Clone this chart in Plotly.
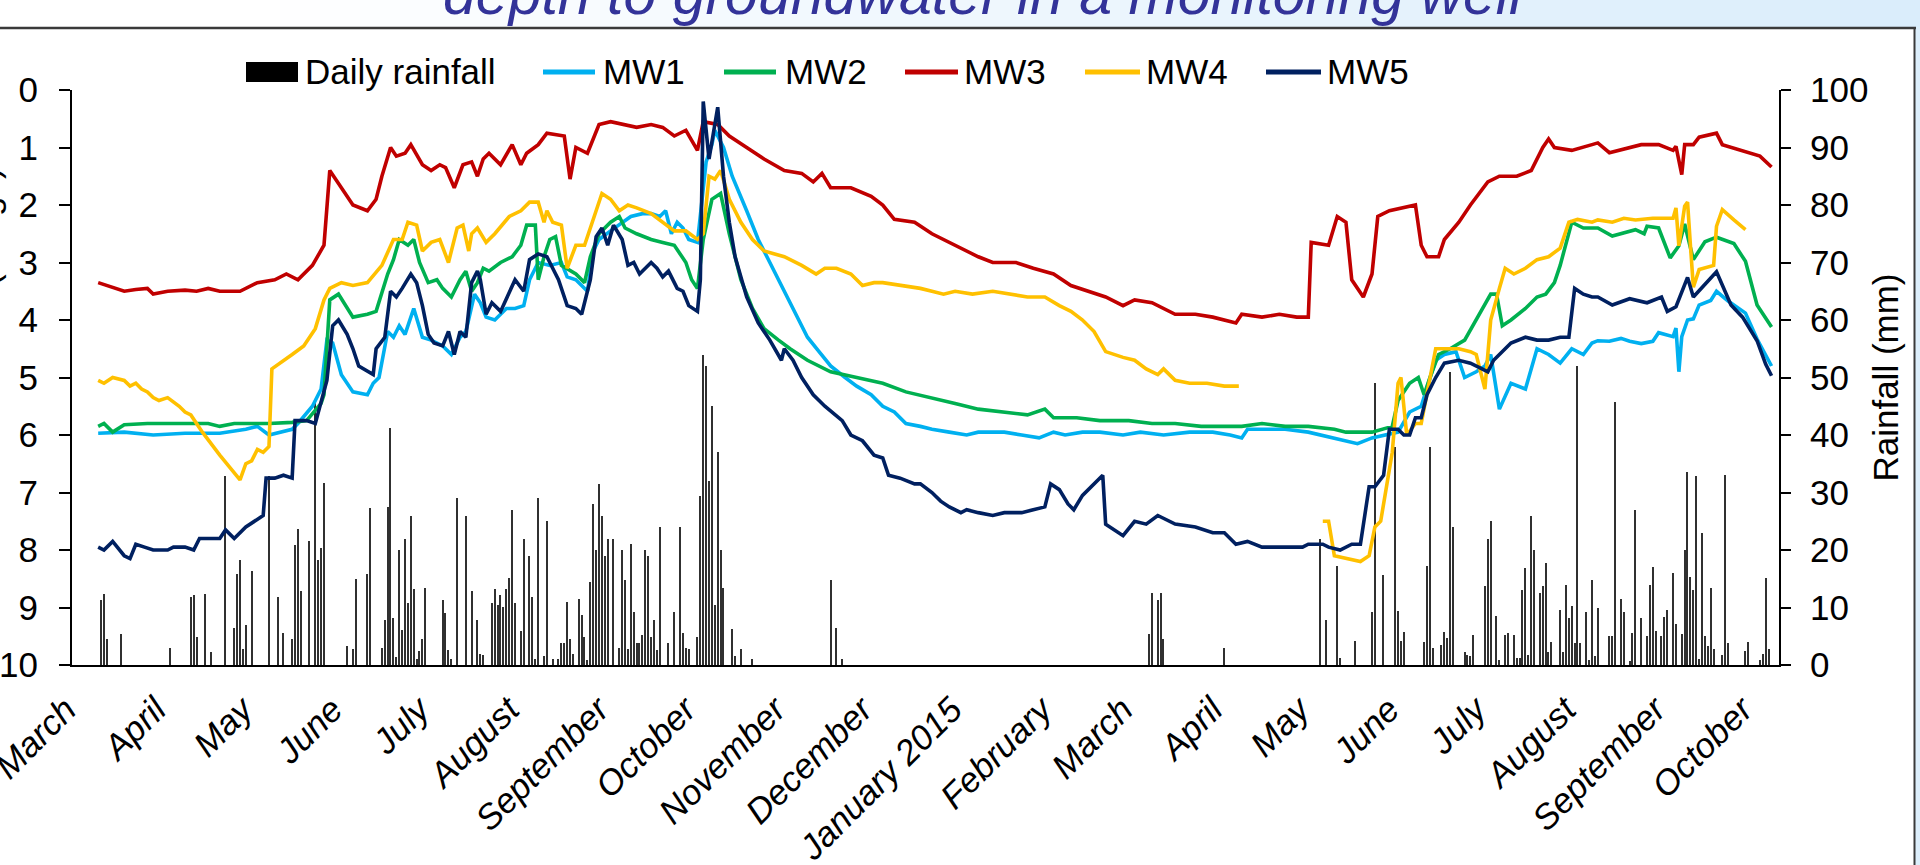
import pandas as pd
import plotly.graph_objects as go

# ---------------- data (days counted from 1 March 2014) ----------------
START = pd.Timestamp("2014-03-01")

month_ticks = ["2014-03-01", "2014-04-01", "2014-05-01", "2014-06-01", "2014-07-01",
               "2014-08-01", "2014-09-01", "2014-10-01", "2014-11-01", "2014-12-01",
               "2015-01-01", "2015-02-01", "2015-03-01", "2015-04-01", "2015-05-01",
               "2015-06-01", "2015-07-01", "2015-08-01", "2015-09-01", "2015-10-01"]
month_labels = ["March", "April", "May", "June", "July", "August", "September", "October",
                "November", "December", "January 2015", "February", "March", "April", "May",
                "June", "July", "August", "September", "October"]

rain_2014 = [(9, 11.3), (10, 12.4), (11, 4.5), (16, 5.4), (33, 2.9), (40, 11.9), (41, 12.1), (42, 4.9),
             (45, 12.4), (47, 2.3), (52, 32.8), (55, 6.5), (56, 15.8), (57, 18.3), (58, 2.7), (59, 7.0),
             (61, 16.3), (67, 32.8), (70, 11.8), (72, 5.6), (75, 4.6), (76, 20.8), (77, 23.7), (78, 12.9),
             (81, 21.6), (83, 46.0), (84, 18.2), (85, 20.3), (86, 31.6), (94, 3.3), (96, 2.7), (97, 14.9),
             (101, 15.9), (102, 27.3), (106, 3.0), (107, 7.9), (108, 27.5), (109, 41.2), (110, 8.2),
             (111, 1.4), (112, 20.0), (113, 6.1), (114, 22.0), (115, 10.7), (116, 26.0), (117, 13.2),
             (118, 1.1), (119, 2.5), (120, 4.5), (121, 13.4), (127, 11.3), (128, 9.1), (129, 2.6),
             (130, 1.0), (132, 29.0), (135, 26.0), (137, 12.9), (139, 7.9), (140, 1.9), (141, 1.8),
             (144, 10.8), (145, 13.3), (146, 10.4), (147, 12.2), (148, 10.1), (149, 13.2), (150, 15.1),
             (151, 27.0), (152, 10.7), (154, 6.0), (155, 22.0), (157, 19.0), (158, 11.8), (159, 1.0),
             (160, 29.0), (162, 1.5), (163, 25.0), (165, 1.1), (167, 1.0), (168, 3.8), (169, 3.8),
             (170, 11.0), (171, 4.6), (172, 2.0), (174, 11.4), (175, 8.7), (176, 4.9), (177, 0.9),
             (178, 14.5), (179, 28.0), (180, 20.0), (181, 31.5), (182, 26.0), (183, 19.0), (184, 22.0),
             (186, 22.0), (188, 3.0), (189, 20.0), (190, 14.8), (191, 2.7), (192, 21.0), (193, 9.3),
             (194, 3.8), (195, 3.8), (196, 5.2), (197, 20.0), (198, 19.0), (199, 4.9), (200, 7.8),
             (201, 2.6), (202, 24.0), (205, 3.9), (207, 9.3), (209, 24.0), (210, 5.6), (211, 2.9),
             (212, 2.7), (215, 4.8), (216, 29.4), (217, 54.0), (218, 52.0), (219, 32.0), (220, 45.0),
             (221, 10.4), (222, 37.0), (223, 20.0), (224, 13.4), (227, 6.2), (228, 1.5), (230, 2.7),
             (234, 1.0), (261, 14.7), (263, 6.4), (265, 1.0)]

rain_2015 = [(371, 5.4), (372, 12.5), (374, 11.3), (375, 12.5), (376, 4.5), (397, 2.9), (430, 22.0),
             (432, 7.8), (436, 17.3), (437, 1.3), (442, 4.2), (448, 9.2), (449, 49.0), (452, 15.6),
             (456, 38.0), (457, 9.4), (458, 4.2), (459, 5.8), (466, 4.0), (467, 17.3), (468, 38.0),
             (469, 2.9), (472, 3.5), (473, 5.8), (474, 4.7), (475, 51.0), (476, 24.0), (480, 2.3),
             (481, 1.7), (482, 1.5), (483, 5.2), (487, 13.8), (488, 22.0), (489, 25.0), (491, 8.5),
             (492, 0.9), (494, 5.2), (495, 5.6), (497, 5.2), (498, 1.3), (499, 1.3), (500, 13.0),
             (501, 16.9), (502, 1.7), (503, 26.0), (504, 20.0), (506, 12.5), (507, 13.7), (508, 17.8),
             (509, 2.3), (510, 4.0), (513, 9.5), (514, 2.3), (515, 14.0), (516, 8.1), (517, 10.3),
             (518, 3.8), (519, 52.0), (520, 3.8), (522, 9.3), (523, 0.9), (524, 14.7), (525, 1.5),
             (526, 10.0), (530, 5.0), (531, 5.0), (532, 45.7), (534, 11.5), (535, 9.3), (537, 0.7),
             (538, 5.5), (539, 27.0), (541, 8.2), (543, 5.0), (544, 14.0), (545, 17.0), (546, 6.0),
             (548, 5.0), (549, 8.4), (550, 9.5), (552, 16.0), (553, 7.2), (555, 5.4), (556, 20.0),
             (557, 33.5), (558, 15.3), (559, 13.0), (560, 32.9), (561, 1.0), (562, 22.9), (563, 5.0),
             (564, 3.3), (565, 13.4), (566, 2.7), (569, 1.7), (570, 33.1), (571, 3.8), (577, 2.4),
             (578, 4.0), (582, 0.8), (583, 2.0), (584, 15.1), (585, 2.7)]

mw1 = [(8, 5.97), (17, 5.95), (27, 6.0), (38, 5.97), (50, 5.97), (59, 5.9), (63, 5.85), (67, 6.0),
       (75, 5.9), (77, 5.8), (82, 5.5), (85, 5.2), (87, 4.35), (89, 4.4), (92, 4.95), (96, 5.25),
       (101, 5.3), (103, 5.1), (105, 5.0), (108, 4.2), (110, 4.3), (112, 4.1), (114, 4.25), (117, 3.8),
       (120, 4.3), (123, 4.35), (127, 4.45), (130, 4.6), (133, 4.3), (135, 4.2), (138, 3.55), (140, 3.7),
       (142, 3.95), (145, 4.0), (149, 3.8), (152, 3.8), (155, 3.75), (157, 3.3), (160, 3.0), (164, 3.05),
       (168, 3.0), (170, 3.25), (173, 3.3), (177, 3.5), (179, 2.8), (181, 2.6), (185, 2.45), (189, 2.3),
       (192, 2.2), (196, 2.15), (199, 2.15), (202, 2.2), (204, 2.1), (206, 2.5), (208, 2.3), (210, 2.4),
       (212, 2.6), (215, 2.65), (218, 1.25), (220, 0.95), (221, 0.7), (224, 1.0), (227, 1.5), (232, 2.1),
       (236, 2.6), (240, 3.0), (245, 3.5), (249, 3.9), (253, 4.3), (257, 4.55), (261, 4.8), (266, 5.0),
       (270, 5.15), (275, 5.3), (279, 5.5), (283, 5.6), (287, 5.8), (292, 5.85), (296, 5.9), (302, 5.95),
       (308, 6.0), (312, 5.95), (321, 5.95), (327, 6.0), (333, 6.05), (338, 5.95), (342, 6.0),
       (348, 5.95), (354, 5.95), (362, 6.0), (368, 5.95), (376, 6.0), (385, 5.95), (393, 5.95),
       (399, 6.0), (403, 6.05), (405, 5.9), (410, 5.9), (418, 5.9), (426, 5.95), (435, 6.05),
       (439, 6.1), (443, 6.15), (448, 6.05), (452, 6.0), (457, 5.95), (461, 5.6), (465, 5.5),
       (470, 4.7), (473, 4.6), (477, 4.55), (480, 5.0), (484, 4.9), (487, 4.8), (489, 4.6),
       (492, 5.55), (496, 5.1), (501, 5.2), (505, 4.5), (509, 4.6), (513, 4.75), (517, 4.5),
       (521, 4.6), (524, 4.4), (526, 4.36), (530, 4.37), (534, 4.32), (537, 4.37), (541, 4.41),
       (545, 4.37), (547, 4.22), (552, 4.29), (553, 4.14), (554, 4.9), (555, 4.29), (557, 4.0),
       (559, 3.98), (561, 3.74), (565, 3.66), (567, 3.5), (571, 3.67), (577, 3.88), (581, 4.33),
       (586, 4.8)]

mw2 = [(8, 5.85), (10, 5.8), (13, 5.95), (17, 5.82), (25, 5.8), (38, 5.8), (46, 5.8), (50, 5.85),
       (55, 5.8), (59, 5.8), (67, 5.8), (75, 5.78), (80, 5.75), (85, 5.45), (86, 5.3), (88, 3.65),
       (91, 3.55), (96, 3.95), (101, 3.9), (104, 3.85), (108, 3.2), (110, 2.95), (112, 2.6), (115, 2.7),
       (117, 2.6), (119, 3.0), (122, 3.35), (125, 3.3), (127, 3.45), (130, 3.6), (133, 3.3), (135, 3.15),
       (137, 3.5), (139, 3.35), (141, 3.1), (143, 3.15), (147, 3.0), (151, 2.9), (154, 2.7), (156, 2.35),
       (159, 2.35), (160, 3.3), (162, 2.9), (164, 2.6), (166, 2.55), (168, 3.05), (171, 3.15),
       (173, 3.2), (176, 3.35), (178, 2.9), (181, 2.5), (185, 2.3), (188, 2.2), (190, 2.4), (194, 2.5),
       (199, 2.6), (203, 2.65), (207, 2.7), (211, 3.0), (213, 3.3), (215, 3.45), (217, 2.6), (220, 1.9),
       (223, 1.8), (226, 2.5), (230, 3.3), (234, 3.8), (238, 4.15), (243, 4.35), (247, 4.5), (253, 4.7),
       (261, 4.9), (270, 5.0), (279, 5.1), (287, 5.25), (296, 5.35), (304, 5.45), (312, 5.55),
       (321, 5.6), (329, 5.65), (335, 5.55), (338, 5.7), (346, 5.7), (354, 5.75), (364, 5.75),
       (372, 5.8), (380, 5.8), (389, 5.85), (397, 5.85), (403, 5.85), (410, 5.8), (418, 5.85),
       (426, 5.85), (435, 5.9), (439, 5.95), (443, 5.95), (448, 5.95), (455, 5.85), (457, 5.4),
       (461, 5.1), (464, 5.0), (466, 5.3), (468, 5.0), (471, 4.6), (475, 4.5), (480, 4.35), (484, 4.0),
       (487, 3.75), (489, 3.55), (491, 3.55), (493, 4.1), (496, 4.0), (501, 3.8), (505, 3.6),
       (508, 3.55), (511, 3.35), (513, 3.05), (517, 2.3), (521, 2.4), (524, 2.4), (526, 2.4),
       (531, 2.54), (539, 2.43), (542, 2.5), (543, 2.37), (547, 2.4), (549, 2.64), (551, 2.92),
       (554, 2.71), (556, 2.33), (559, 2.95), (563, 2.64), (567, 2.56), (573, 2.67), (577, 2.98),
       (581, 3.74), (586, 4.12)]

mw3 = [(8, 3.35), (11, 3.4), (17, 3.5), (21, 3.47), (25, 3.45), (27, 3.55), (32, 3.5), (38, 3.48),
       (42, 3.5), (46, 3.45), (50, 3.5), (57, 3.5), (59, 3.45), (63, 3.35), (69, 3.3), (73, 3.2),
       (77, 3.3), (82, 3.05), (86, 2.7), (88, 1.4), (92, 1.7), (96, 2.0), (101, 2.1), (104, 1.9),
       (106, 1.5), (109, 1.0), (111, 1.15), (114, 1.1), (116, 0.95), (120, 1.3), (123, 1.4),
       (126, 1.3), (128, 1.35), (131, 1.7), (134, 1.3), (137, 1.25), (139, 1.5), (141, 1.2),
       (143, 1.1), (147, 1.3), (151, 0.95), (154, 1.3), (156, 1.1), (160, 0.95), (163, 0.75),
       (168, 0.8), (169, 0.8), (171, 1.55), (173, 1.0), (177, 1.1), (181, 0.6), (185, 0.55),
       (190, 0.6), (194, 0.65), (199, 0.6), (203, 0.65), (207, 0.8), (211, 0.7), (215, 1.05),
       (217, 0.55), (222, 0.6), (226, 0.8), (232, 1.0), (238, 1.2), (245, 1.4), (251, 1.45),
       (255, 1.6), (258, 1.45), (261, 1.7), (268, 1.7), (275, 1.85), (279, 2.0), (283, 2.25),
       (290, 2.3), (296, 2.5), (302, 2.65), (308, 2.8), (312, 2.9), (317, 3.0), (325, 3.0),
       (331, 3.1), (338, 3.2), (344, 3.4), (350, 3.5), (356, 3.6), (362, 3.75), (366, 3.65),
       (372, 3.7), (380, 3.9), (387, 3.9), (393, 3.95), (401, 4.05), (403, 3.9), (410, 3.95),
       (416, 3.9), (422, 3.95), (426, 3.95), (427, 2.65), (433, 2.7), (436, 2.2), (439, 2.3),
       (441, 3.3), (445, 3.6), (448, 3.2), (450, 2.2), (454, 2.1), (459, 2.05), (463, 2.0),
       (465, 2.7), (467, 2.9), (471, 2.9), (473, 2.6), (478, 2.3), (482, 2.0), (488, 1.6),
       (492, 1.5), (498, 1.5), (503, 1.4), (507, 1.0), (509, 0.85), (511, 1.0), (517, 1.05),
       (524, 0.95), (526, 0.92), (530, 1.09), (541, 0.95), (547, 0.95), (552, 1.05), (553, 0.98),
       (555, 1.47), (556, 0.95), (559, 0.95), (561, 0.82), (567, 0.75), (569, 0.95), (577, 1.08),
       (582, 1.15), (586, 1.34)]

mw4 = [(8, 5.05), (10, 5.1), (13, 5.0), (17, 5.05), (19, 5.15), (21, 5.1), (23, 5.2), (25, 5.25),
       (27, 5.35), (29, 5.4), (32, 5.35), (36, 5.5), (38, 5.6), (40, 5.65), (44, 5.95), (50, 6.35),
       (57, 6.78), (59, 6.5), (61, 6.45), (63, 6.25), (65, 6.3), (67, 6.2), (68, 4.85), (71, 4.75),
       (75, 4.6), (79, 4.45), (83, 4.15), (86, 3.65), (88, 3.45), (92, 3.35), (96, 3.4), (101, 3.35),
       (106, 3.05), (110, 2.6), (113, 2.6), (115, 2.3), (118, 2.35), (120, 2.8), (123, 2.65),
       (126, 2.6), (129, 3.0), (132, 2.4), (134, 2.35), (136, 2.8), (137, 2.5), (139, 2.4),
       (142, 2.65), (145, 2.5), (150, 2.2), (154, 2.1), (157, 1.95), (160, 1.95), (162, 2.3),
       (163, 2.1), (165, 2.3), (168, 2.35), (170, 3.1), (173, 2.7), (176, 2.7), (180, 2.1),
       (182, 1.8), (185, 1.9), (188, 2.1), (191, 2.0), (194, 2.05), (199, 2.15), (203, 2.3),
       (207, 2.45), (211, 2.45), (215, 2.6), (217, 2.5), (219, 1.5), (221, 1.55), (223, 1.4),
       (226, 1.9), (230, 2.3), (234, 2.6), (238, 2.8), (245, 2.9), (251, 3.05), (256, 3.2),
       (259, 3.1), (263, 3.1), (268, 3.2), (272, 3.4), (276, 3.35), (279, 3.35), (285, 3.4),
       (292, 3.45), (296, 3.5), (300, 3.55), (304, 3.5), (310, 3.55), (317, 3.5), (323, 3.55),
       (329, 3.6), (335, 3.6), (340, 3.75), (344, 3.85), (348, 4.0), (352, 4.2), (356, 4.55),
       (362, 4.65), (366, 4.7), (370, 4.85), (374, 4.95), (376, 4.85), (380, 5.05), (385, 5.1),
       (391, 5.1), (397, 5.15), (402, 5.15), (415, None),
       (431, 7.5), (433, 7.5), (435, 8.1), (439, 8.15), (444, 8.2), (447, 8.1), (449, 7.6),
       (451, 7.5), (455, 6.3), (457, 5.1), (458, 5.0), (460, 6.0), (463, 5.8), (465, 5.8),
       (467, 5.3), (470, 4.5), (473, 4.5), (478, 4.5), (482, 4.55), (484, 4.6), (487, 5.2),
       (489, 4.0), (492, 3.45), (494, 3.1), (497, 3.2), (501, 3.1), (505, 2.95), (509, 2.9),
       (513, 2.75), (516, 2.3), (519, 2.25), (524, 2.3), (526, 2.26), (531, 2.3), (535, 2.23),
       (539, 2.26), (545, 2.23), (552, 2.23), (553, 2.05), (554, 2.71), (556, 2.02), (557, 1.95),
       (558, 2.71), (559, 3.43), (561, 3.12), (566, 3.05), (567, 2.37), (569, 2.08), (573, 2.26),
       (577, 2.43)]

mw5 = [(8, 7.95), (10, 8.0), (13, 7.85), (17, 8.1), (19, 8.15), (21, 7.9), (24, 7.95), (27, 8.0),
       (32, 8.0), (34, 7.95), (38, 7.95), (41, 8.0), (43, 7.8), (47, 7.8), (50, 7.8), (52, 7.65),
       (55, 7.8), (59, 7.6), (65, 7.4), (66, 6.75), (69, 6.75), (72, 6.7), (75, 6.75), (76, 5.75),
       (80, 5.75), (83, 5.8), (85, 5.4), (87, 5.05), (89, 4.1), (91, 4.0), (94, 4.25), (96, 4.5),
       (98, 4.8), (103, 4.95), (104, 4.5), (107, 4.3), (109, 3.5), (111, 3.6), (113, 3.45),
       (116, 3.2), (118, 3.35), (120, 3.75), (122, 4.25), (124, 4.4), (127, 4.45), (129, 4.2),
       (131, 4.6), (133, 4.2), (135, 4.3), (137, 3.35), (139, 3.15), (140, 3.3), (142, 3.9),
       (144, 3.7), (147, 3.85), (150, 3.5), (152, 3.3), (155, 3.5), (157, 2.95), (160, 2.85),
       (163, 2.9), (165, 3.1), (167, 3.3), (170, 3.75), (173, 3.8), (175, 3.9), (178, 3.3),
       (180, 2.55), (182, 2.4), (184, 2.7), (186, 2.35), (189, 2.6), (191, 3.05), (193, 3.0),
       (195, 3.2), (199, 3.0), (201, 3.1), (203, 3.25), (205, 3.15), (208, 3.45), (210, 3.5),
       (212, 3.75), (215, 3.85), (216, 3.3), (217, 0.2), (219, 1.2), (220, 0.9), (222, 0.3),
       (224, 1.5), (226, 2.3), (228, 2.9), (232, 3.6), (236, 4.05), (240, 4.35), (244, 4.7),
       (245, 4.5), (248, 4.7), (251, 5.0), (255, 5.3), (259, 5.5), (265, 5.75), (268, 6.0),
       (272, 6.1), (276, 6.35), (279, 6.4), (281, 6.7), (285, 6.75), (290, 6.85), (292, 6.85),
       (296, 7.0), (299, 7.15), (302, 7.25), (306, 7.35), (308, 7.3), (312, 7.35), (317, 7.4),
       (321, 7.35), (327, 7.35), (331, 7.3), (335, 7.25), (337, 6.85), (340, 6.95), (343, 7.2),
       (345, 7.3), (348, 7.05), (355, 6.7), (356, 7.55), (362, 7.75), (366, 7.5), (370, 7.55),
       (374, 7.4), (380, 7.55), (387, 7.6), (393, 7.7), (397, 7.7), (401, 7.9), (405, 7.85),
       (410, 7.95), (418, 7.95), (424, 7.95), (426, 7.9), (431, 7.9), (433, 7.95), (437, 8.0),
       (441, 7.9), (444, 7.9), (447, 6.9), (449, 6.9), (452, 6.7), (454, 5.9), (457, 5.9),
       (459, 6.0), (461, 6.0), (463, 5.7), (465, 5.7), (467, 5.3), (470, 5.0), (473, 4.75),
       (478, 4.7), (482, 4.75), (486, 4.85), (488, 4.9), (490, 4.7), (493, 4.55), (496, 4.4),
       (501, 4.3), (505, 4.35), (509, 4.35), (513, 4.3), (516, 4.3), (518, 3.45), (521, 3.55),
       (524, 3.6), (526, 3.6), (531, 3.74), (537, 3.63), (543, 3.7), (548, 3.6), (550, 3.85),
       (553, 3.77), (557, 3.26), (559, 3.6), (567, 3.16), (572, 3.74), (576, 3.95), (581, 4.36),
       (584, 4.77), (586, 4.97)]

series_names = ["MW1", "MW2", "MW3", "MW4", "MW5"]
series_data = [mw1, mw2, mw3, mw4, mw5]
series_colors = ["#00B0F0", "#00B050", "#C00000", "#FFC000", "#002060"]

# ---------------- layout geometry (pixels) ----------------
WID, HGT = 1920, 865
L, R, T, B = 72, 1779, 90, 665
PW, PH = R - L, B - T
FONT = "Liberation Sans, Arial, sans-serif"


def px_x(p):
    return (p - L) / PW


def px_y(p):
    return 1 - (p - T) / PH


def to_dates(days):
    return [START + pd.Timedelta(days=d) for d in days]


fig = go.Figure()

rain = rain_2014 + rain_2015
fig.add_trace(go.Bar(
    x=to_dates([d for d, _ in rain]), y=[v for _, v in rain],
    width=0.42 * 86400000, marker=dict(color="#303030", line=dict(width=0)),
    yaxis="y", name="Daily rainfall", showlegend=False))

for name, data, col in zip(series_names, series_data, series_colors):
    fig.add_trace(go.Scatter(
        x=to_dates([d for d, _ in data]), y=[v for _, v in data],
        mode="lines", line=dict(color=col, width=3.6), connectgaps=False,
        yaxis="y2", name=name, showlegend=False))

tickfont = dict(family=FONT, size=35, color="black")

fig.update_layout(
    width=WID, height=HGT,
    margin=dict(l=L, r=WID - R, t=T, b=HGT - B, autoexpand=False),
    paper_bgcolor="#DCEEFB", plot_bgcolor="white",
    showlegend=False,
    bargap=0,
    xaxis=dict(type="date", range=["2014-02-27 23:00", "2015-10-10 14:00"],
               tickvals=month_ticks, ticktext=month_labels, tickangle=-45,
               tickfont=dict(family=FONT, size=35, color="black", style="italic"),
               ticklabeloverflow="allow", ticklabelstandoff=8, ticklabelshift=-9,
               showline=True, linecolor="black", linewidth=2, ticks="",
               showgrid=False, zeroline=False),
    yaxis=dict(side="right", range=[0, 100], tickvals=list(range(0, 101, 10)),
               ticks="outside", ticklen=10, tickwidth=2, tickcolor="black",
               showline=True, linecolor="black", linewidth=2, tickfont=tickfont,
               ticklabelstandoff=12,
               title=dict(text="Rainfall (mm)", font=tickfont, standoff=6),
               showgrid=False, zeroline=False, anchor="x"),
    yaxis2=dict(side="left", overlaying="y", range=[10, 0], tickvals=list(range(0, 11)),
                ticks="outside", ticklen=11, tickwidth=2, tickcolor="black",
                showline=True, linecolor="black", linewidth=2, tickfont=tickfont,
                ticklabelstandoff=14,
                showgrid=False, zeroline=False, anchor="x"),
)

shapes = []
# slide background: white panel with border, gradient header strip
shapes.append(dict(type="rect", xref="paper", yref="paper", layer="below",
                   x0=px_x(0), x1=px_x(1914), y0=px_y(HGT), y1=px_y(28),
                   fillcolor="white", line=dict(width=0)))
n = 48
for i in range(n):
    f = i / (n - 1)
    t = max(0.0, (f - 0.12) / 0.88)
    r = round(255 - t * (255 - 218))
    g = round(255 - t * (255 - 237))
    b = round(255 - t * (255 - 251))
    shapes.append(dict(type="rect", xref="paper", yref="paper", layer="below",
                       x0=px_x(i * WID / n), x1=px_x((i + 1) * WID / n + 1),
                       y0=px_y(27), y1=px_y(0),
                       fillcolor=f"rgb({r},{g},{b})", line=dict(width=0)))
shapes.append(dict(type="line", xref="paper", yref="paper",
                   x0=px_x(0), x1=px_x(1916), y0=px_y(28), y1=px_y(28),
                   line=dict(color="#3A3A3A", width=2.5)))
shapes.append(dict(type="line", xref="paper", yref="paper",
                   x0=px_x(1914.5), x1=px_x(1914.5), y0=px_y(28), y1=px_y(HGT),
                   line=dict(color="#3A3A3A", width=2)))

# legend (drawn as a key above the plot)
leg_y = 72
shapes.append(dict(type="rect", xref="paper", yref="paper",
                   x0=px_x(246), x1=px_x(298), y0=px_y(82), y1=px_y(62),
                   fillcolor="black", line=dict(width=0)))
annotations = [dict(text="Daily rainfall", x=px_x(303), y=px_y(leg_y), xref="paper", yref="paper",
                    xanchor="left", yanchor="middle", showarrow=False,
                    font=dict(family=FONT, size=35, color="black"))]
leg_lines = [(543, 595, 601), (724, 776, 783), (905, 958, 962), (1085, 1140, 1144), (1266, 1321, 1325)]
for (x0, x1, xt), name, col in zip(leg_lines, series_names, series_colors):
    shapes.append(dict(type="line", xref="paper", yref="paper",
                       x0=px_x(x0), x1=px_x(x1), y0=px_y(leg_y), y1=px_y(leg_y),
                       line=dict(color=col, width=5)))
    annotations.append(dict(text=name, x=px_x(xt), y=px_y(leg_y), xref="paper", yref="paper",
                            xanchor="left", yanchor="middle", showarrow=False,
                            font=dict(family=FONT, size=35, color="black")))

# slide title (partly cut off at the top) and left axis title (mostly off-page)
annotations.append(dict(text="depth to groundwater in a monitoring well",
                        x=px_x(983), y=px_y(29), xref="paper", yref="paper",
                        xanchor="center", yanchor="bottom", showarrow=False,
                        font=dict(family=FONT, size=59, color="#333399", style="italic")))
annotations.append(dict(text="Water level (m bgs)", textangle=-90,
                        x=px_x(7), y=px_y(166), xref="paper", yref="paper",
                        xanchor="right", yanchor="top", showarrow=False,
                        font=dict(family=FONT, size=35, color="black")))

fig.update_layout(shapes=shapes, annotations=annotations)
fig.write_html("out.html")
